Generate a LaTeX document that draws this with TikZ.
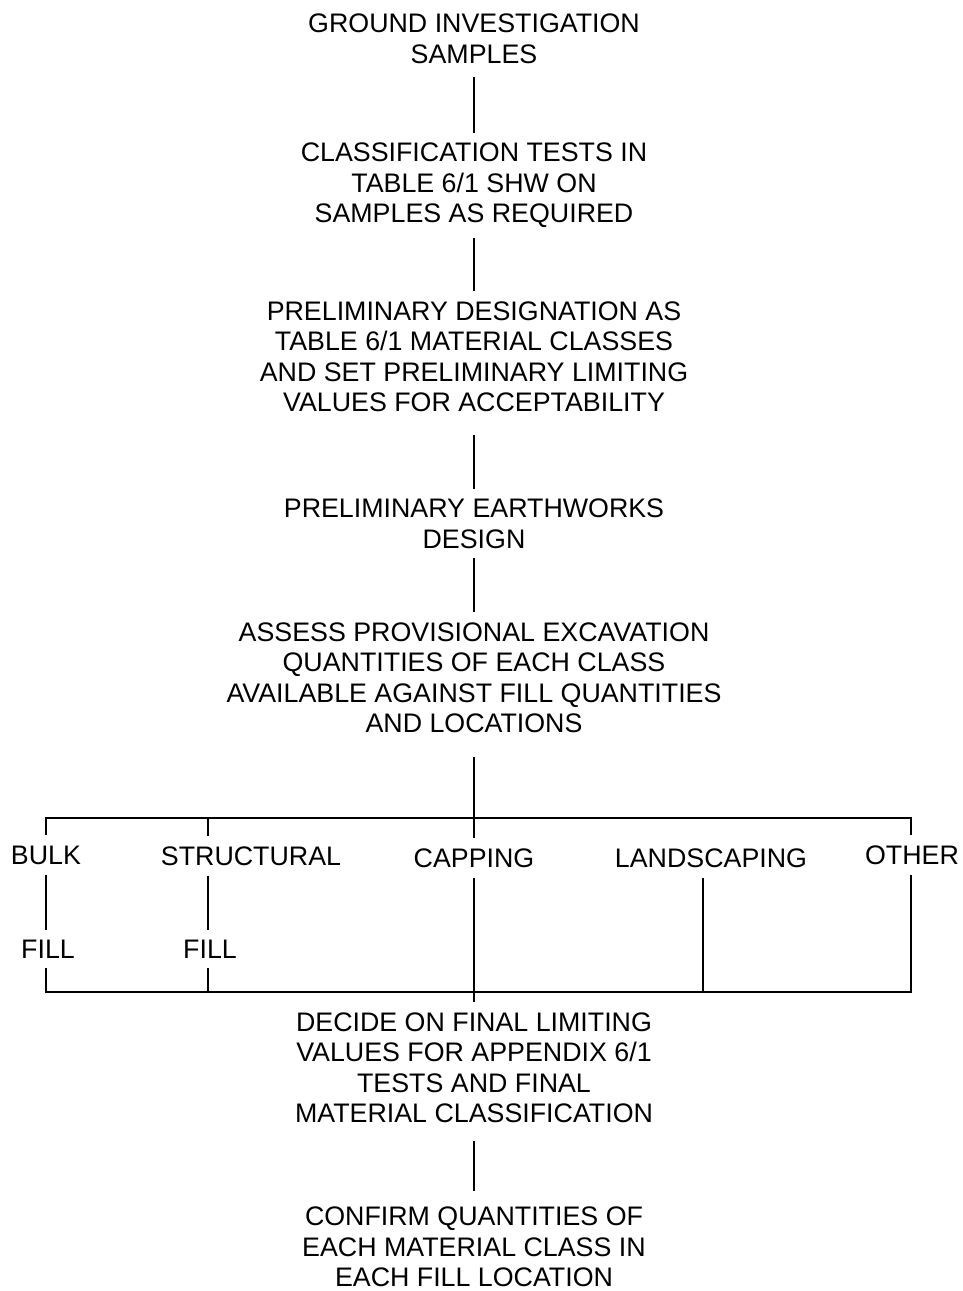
\documentclass[tikz,border=0pt]{standalone}
\usepackage{fontspec}
\setmainfont{Liberation Sans}
\usetikzlibrary{positioning}

\begin{document}
\begin{tikzpicture}[
    x=1pt, y=-1pt,
    stage/.style={align=center, inner xsep=0pt, inner ysep=10pt,
                  text depth=0pt, font=\fontsize{26.8}{30.5}\selectfont},
    branch/.style={inner xsep=0pt, inner ysep=10pt,
                   font=\fontsize{26.8}{30.5}\selectfont},
    link/.style={draw, line width=1.2pt},
]
\useasboundingbox (0,0) rectangle (962,1291);

% === Main sequence ===
\node[stage] (ground) at (474,38.5) {GROUND INVESTIGATION\\SAMPLES};
\node[stage] (classtest) at (474,183) {CLASSIFICATION TESTS IN\\
  TABLE 6/1 SHW ON\\SAMPLES AS REQUIRED};
\node[stage] (prelimdes) at (474,356.5) {PRELIMINARY DESIGNATION AS\\
  TABLE 6/1 MATERIAL CLASSES\\AND SET PRELIMINARY LIMITING\\
  VALUES FOR ACCEPTABILITY};
\node[stage] (prelimearth) at (474,523.5) {PRELIMINARY EARTHWORKS\\DESIGN};
\node[stage] (assess) at (474,677.5) {ASSESS PROVISIONAL EXCAVATION\\
  QUANTITIES OF EACH CLASS\\AVAILABLE AGAINST FILL QUANTITIES\\
  AND LOCATIONS};

% === Fill types ===
\coordinate (barL) at (46,818);
\coordinate (barS) at (208,818);
\coordinate (barM) at (474,818);
\coordinate (barR) at (911,818);
\coordinate (baseL) at (46,992);
\coordinate (baseS) at (208,992);
\coordinate (baseLand) at (703,992);
\coordinate (baseR) at (911,992);

\node[branch] (bulk) at (46,855) {BULK};
\node[branch] (bulkfill) at (48,949) {FILL};
\node[branch] (structural) at (251,856) {STRUCTURAL};
\node[branch] (structfill) at (210,949) {FILL};
\node[branch] (capping) at (474,858) {CAPPING};
\node[branch] (landscaping) at (711,858) {LANDSCAPING};
\node[branch] (other) at (912,855) {OTHER};

% === Final steps ===
\node[stage] (decide) at (474,1067.5) {DECIDE ON FINAL LIMITING\\
  VALUES FOR APPENDIX 6/1\\TESTS AND FINAL\\MATERIAL CLASSIFICATION};
\node[stage] (confirm) at (474,1247) {CONFIRM QUANTITIES OF\\
  EACH MATERIAL CLASS IN\\EACH FILL LOCATION};

% === Links ===
\draw[link, shorten <=4pt] (ground) -- (classtest);
\draw[link, shorten <=5pt] (classtest) -- (prelimdes);
\draw[link, shorten <=13pt] (prelimdes) -- (prelimearth);
\draw[link] (prelimearth) -- (assess);
\draw[link, shorten <=14pt] (assess) -- (barM);

% top and bottom bars
\draw[link] (bulk.north -| barL) -- (barL) -- (barR) -- (other.north -| barR);
\draw[link] (bulkfill.south -| baseL) -- (baseL) -- (baseR)
  -- (other.south -| baseR);
\draw[link] (barS) -- (barS |- structural.north);
\draw[link] (barM) -- (capping);

% branch lines
\draw[link] (bulk.south -| barL) -- (bulkfill.north -| barL);
\draw[link] (structural.south -| barS) -- (structfill.north -| barS);
\draw[link] (structfill.south -| baseS) -- (baseS);
\draw[link] (landscaping.south -| baseLand) -- (baseLand);
\draw[link] (capping) -- (decide);

\draw[link, shorten <=8pt, shorten >=6pt] (decide) -- (confirm);

\end{tikzpicture}
\end{document}
